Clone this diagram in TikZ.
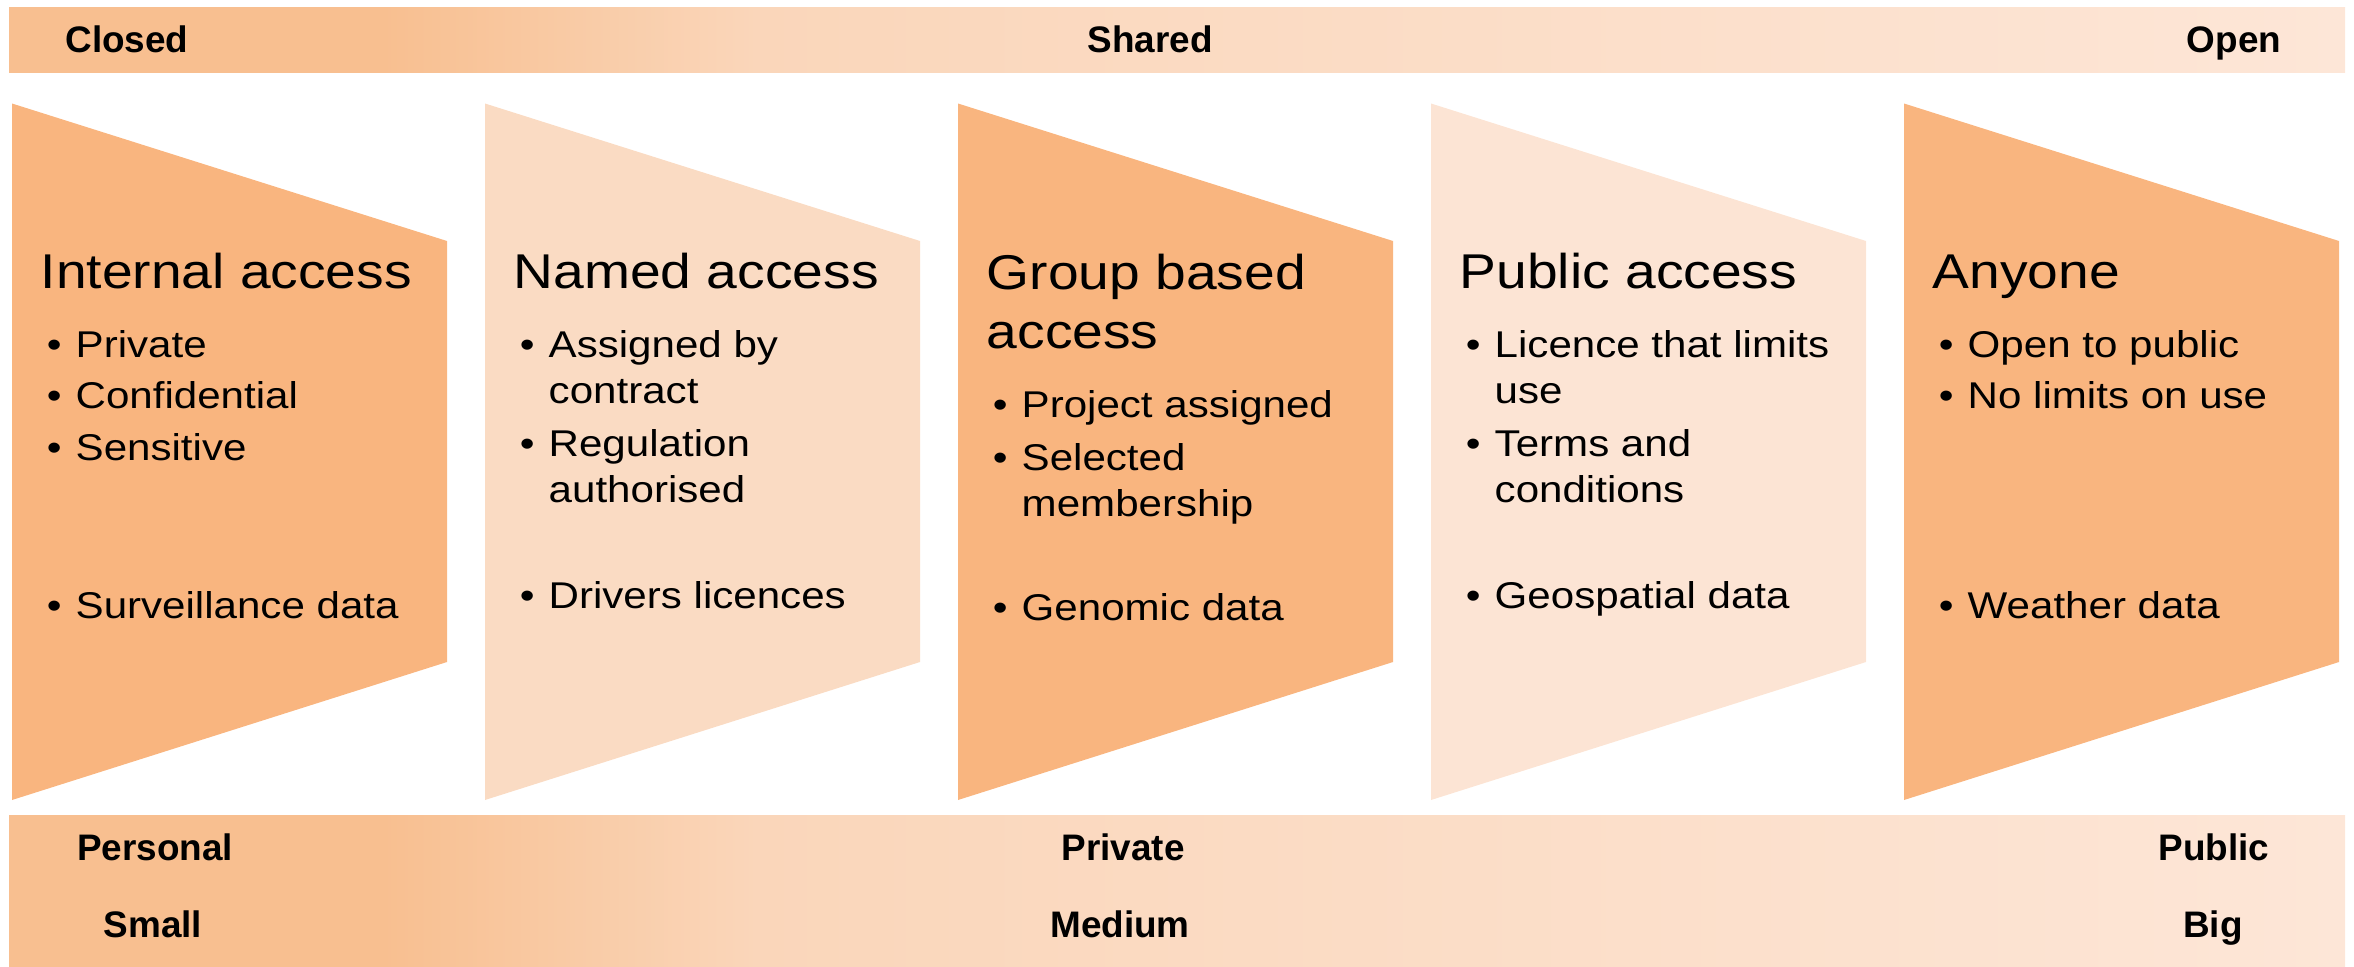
\documentclass[tikz,border=0pt]{standalone}
\usepackage{fontspec}
\setmainfont{Liberation Sans}
\newfontfamily\shapefont[FakeStretch=1.13]{Liberation Sans}
\usepackage{xcolor}
\definecolor{accdark}{HTML}{F9B57F}
\definecolor{acclight}{HTML}{FADBC3}
\definecolor{accpale}{HTML}{FCE4D4}
\definecolor{barleft}{HTML}{F8BF90}
\definecolor{barmid}{HTML}{FAD6BA}
\definecolor{barright}{HTML}{FDE6D7}
\newcommand{\darkcolor}{accdark}
\newcommand{\lightcolor}{acclight}
\newcommand{\palecolor}{accpale}
\newcommand{\wid}{435}
\pgfdeclarehorizontalshading{barshade}{100bp}{color(0bp)=(barleft); color(25bp)=(barleft); color(33bp)=(barleft); color(41bp)=(barmid); color(75bp)=(barright); color(100bp)=(barright)}

\begin{document}
\begin{tikzpicture}[x=0.1mm, y=-0.1mm,
    title/.style={anchor=base west, inner sep=0pt, font=\shapefont\fontsize{13.9}{16}\selectfont},
    point/.style={anchor=base west, inner sep=0pt, font=\shapefont\fontsize{10.6}{12}\selectfont,
        execute at begin node={\llap{\textbullet\hspace{1.4mm}}}},
    cont/.style={anchor=base west, inner sep=0pt, font=\shapefont\fontsize{10.6}{12}\selectfont},
    barlabel/.style={anchor=base, inner sep=0pt, font=\bfseries\fontsize{10.5}{12}\selectfont}]
    \useasboundingbox (0,0) rectangle (2354,966);

    % bars
    \shade[shading=barshade] (9,7) rectangle (2345,72);
    \shade[shading=barshade] (9,815) rectangle (2345,966);

    % shapes
    \fill[\darkcolor] (12,103.5) -- (12+\wid,241) -- (12+\wid,662) -- (12,800) -- cycle;
    \fill[\lightcolor] (485,103.5) -- (485+\wid,241) -- (485+\wid,662) -- (485,800) -- cycle;
    \fill[\darkcolor] (958,103.5) -- (958+\wid,241) -- (958+\wid,662) -- (958,800) -- cycle;
    \fill[\palecolor] (1431,103.5) -- (1431+\wid,241) -- (1431+\wid,662) -- (1431,800) -- cycle;
    \fill[\darkcolor] (1904,103.5) -- (1904+\wid,241) -- (1904+\wid,662) -- (1904,800) -- cycle;

    % bar labels
    \node[barlabel] (closed) at (127,52) {Closed};
    \node[barlabel] (shared) at (1150,52) {Shared};
    \node[barlabel] (open) at (2234,52) {Open};
    \node[barlabel] (personal) at (155,860) {Personal};
    \node[barlabel] (private) at (1123,860) {Private};
    \node[barlabel] (public) at (2214,860) {Public};
    \node[barlabel] (small) at (153,937) {Small};
    \node[barlabel] (medium) at (1120,937) {Medium};
    \node[barlabel] (big) at (2213,937) {Big};

    % internal access
    \node[title] (t1) at (40,288) {Internal access};
    \node[point] (p11) at (75,357) {Private};
    \node[point] (p12) at (75,408) {Confidential};
    \node[point] (p13) at (75,460) {Sensitive};
    \node[point] (p14) at (75,618) {Surveillance data};

    % named access
    \node[title] (t2) at (513,288) {Named access};
    \node[point] (p21) at (548,357) {Assigned by};
    \node[cont] (c21) at (548,403) {contract};
    \node[point] (p22) at (548,456) {Regulation};
    \node[cont] (c22) at (548,502) {authorised};
    \node[point] (p23) at (548,608) {Drivers licences};

    % group based access
    \node[title] (t3) at (986,289) {Group based};
    \node[title] (t3b) at (986,348) {access};
    \node[point] (p31) at (1021,417) {Project assigned};
    \node[point] (p32) at (1021,470) {Selected};
    \node[cont] (c32) at (1021,516) {membership};
    \node[point] (p33) at (1021,620) {Genomic data};

    % public access
    \node[title] (t4) at (1459,288) {Public access};
    \node[point] (p41) at (1494,357) {Licence that limits};
    \node[cont] (c41) at (1494,403) {use};
    \node[point] (p42) at (1494,456) {Terms and};
    \node[cont] (c42) at (1494,502) {conditions};
    \node[point] (p43) at (1494,608) {Geospatial data};

    % anyone
    \node[title] (t5) at (1932,288) {Anyone};
    \node[point] (p51) at (1967,357) {Open to public};
    \node[point] (p52) at (1967,408) {No limits on use};
    \node[point] (p53) at (1967,618) {Weather data};
\end{tikzpicture}
\end{document}
